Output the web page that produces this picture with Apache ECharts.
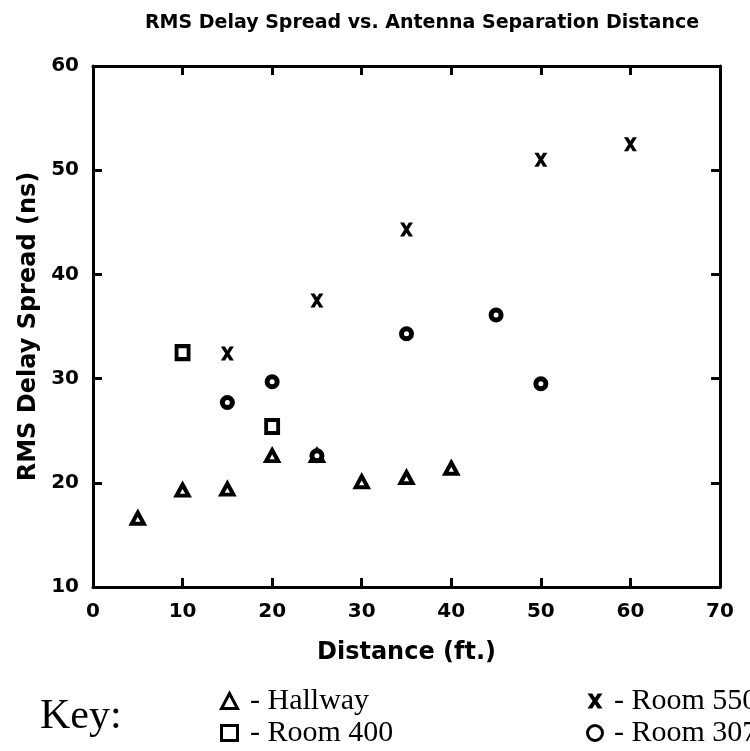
<!DOCTYPE html>
<html>
<head>
<meta charset="utf-8">
<script src="https://cdn.jsdelivr.net/npm/echarts@6/dist/echarts.min.js"></script>
<style>
html, body { margin: 0; padding: 0; background: #fff; }
#main { width: 750px; height: 751px; }
</style>
</head>
<body>
<div id="main"></div>
<script>
// data
var hallway = [[5, 16.6], [10, 19.3], [15, 19.4], [20, 22.6], [25, 22.6], [30, 20.1], [35, 20.5], [40, 21.4]];
var room400 = [[10, 32.5], [20, 25.4]];
var room550 = [[15, 32.4], [25, 37.5], [35, 44.3], [50, 51.0], [60, 52.5]];
var room307 = [[15, 27.7], [20, 29.7], [25, 22.6], [35, 34.3], [45, 36.1], [50, 29.5]];
var xTicks = [0, 10, 20, 30, 40, 50, 60, 70];
var yTicks = [10, 20, 30, 40, 50, 60];

var crossPath = 'path://M0,0L3.2,0L5,2.8L6.8,0L10,0L6.6,5L10,10L6.8,10L5,7.2L3.2,10L0,10L3.4,5Z';
var boldFont = 'DejaVu Sans';
var serifFont = 'Liberation Serif';

var myChart = echarts.init(document.getElementById('main'));

function axisLine() {
    return { show: true, onZero: false, lineStyle: { color: '#000', width: 3 } };
}
function tickIn() {
    return { show: true, inside: true, length: 9, lineStyle: { color: '#000', width: 3 } };
}
function keyLegend(left, names, fmt) {
    return {
        orient: 'vertical',
        left: left,
        top: 685,
        padding: 0,
        itemWidth: 16,
        itemHeight: 15,
        itemGap: 0,
        itemStyle: { borderWidth: 3 },
        data: names,
        formatter: fmt,
        textStyle: { fontFamily: serifFont, fontSize: 30, color: '#000', lineHeight: 32 }
    };
}

var option = {
    backgroundColor: '#fff',
    animation: false,
    title: {
        text: 'RMS Delay Spread vs. Antenna Separation Distance',
        left: 417,
        textAlign: 'center',
        top: 9,
        textStyle: { fontFamily: boldFont, fontWeight: 'bold', fontSize: 19, color: '#000' }
    },
    grid: { left: 93, right: 30, top: 66, bottom: 164 },
    legend: [
        keyLegend(220, ['Hallway', 'Room 400'], ' - {name}'),
        keyLegend(586, ['Room 550', 'Room 307'], '\u2009- {name}')
    ],
    graphic: [{
        type: 'text',
        left: 40,
        top: 696,
        style: { text: 'Key:', font: '42px "Liberation Serif"', fill: '#000' }
    }],
    xAxis: [{
        type: 'value',
        position: 'bottom',
        min: 0, max: 70, interval: 10,
        name: 'Distance (ft.)',
        nameLocation: 'middle',
        nameGap: 54,
        nameTextStyle: { fontFamily: boldFont, fontWeight: 'bold', fontSize: 24, color: '#000' },
        axisLine: axisLine(),
        axisTick: tickIn(),
        splitLine: { show: false },
        axisLabel: {
            margin: 15,
            fontFamily: boldFont, fontWeight: 'bold', fontSize: 20, color: '#000',
            formatter: function (v) { return xTicks.indexOf(v) >= 0 ? String(v) : ''; }
        }
    }, {
        type: 'value',
        position: 'top',
        min: 0, max: 70, interval: 10,
        axisLine: axisLine(),
        axisTick: tickIn(),
        splitLine: { show: false },
        axisLabel: { show: false }
    }],
    yAxis: [{
        type: 'value',
        position: 'left',
        min: 10, max: 60, interval: 10,
        name: 'RMS Delay Spread (ns)',
        nameLocation: 'middle',
        nameGap: 52,
        nameRotate: 90,
        nameTextStyle: { fontFamily: boldFont, fontWeight: 'bold', fontSize: 24, color: '#000' },
        axisLine: axisLine(),
        axisTick: tickIn(),
        splitLine: { show: false },
        axisLabel: {
            margin: 14,
            fontFamily: boldFont, fontWeight: 'bold', fontSize: 20, color: '#000',
            formatter: function (v) { return yTicks.indexOf(v) >= 0 ? String(v) : ''; }
        }
    }, {
        type: 'value',
        position: 'right',
        min: 10, max: 60, interval: 10,
        axisLine: axisLine(),
        axisTick: tickIn(),
        splitLine: { show: false },
        axisLabel: { show: false }
    }],
    series: [{
        name: 'Hallway',
        type: 'scatter',
        symbol: 'triangle',
        symbolSize: [12, 11],
        itemStyle: { color: '#fff', borderColor: '#000', borderWidth: 4, opacity: 1 },
        data: hallway
    }, {
        name: 'Room 400',
        type: 'scatter',
        symbol: 'rect',
        symbolSize: [12, 13],
        itemStyle: { color: '#fff', borderColor: '#000', borderWidth: 4, opacity: 1 },
        data: room400
    }, {
        name: 'Room 550',
        type: 'scatter',
        symbol: crossPath,
        symbolSize: [13, 14],
        itemStyle: { color: '#000', opacity: 1 },
        data: room550
    }, {
        name: 'Room 307',
        type: 'scatter',
        symbol: 'circle',
        symbolSize: 10,
        itemStyle: { color: '#fff', borderColor: '#000', borderWidth: 5, opacity: 1 },
        data: room307
    }]
};

myChart.setOption(option);
window.addEventListener('resize', myChart.resize);
</script>
</body>
</html>
